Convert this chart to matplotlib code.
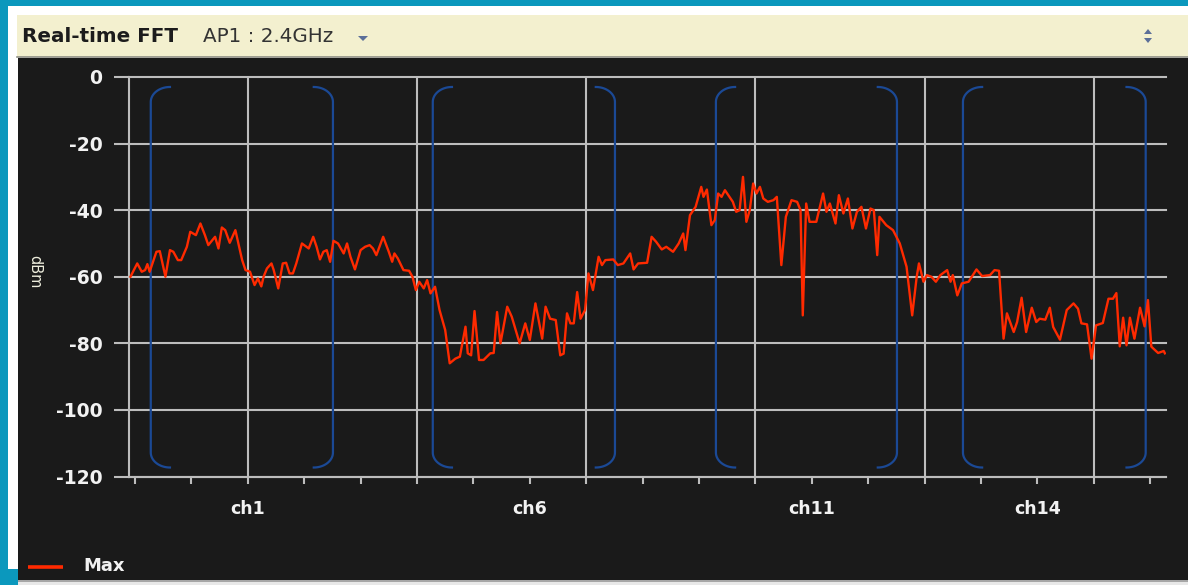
import matplotlib
matplotlib.use('Agg')
import matplotlib.pyplot as plt
import numpy as np
from matplotlib.patches import Rectangle, Polygon

# spectrum trace (MHz, dBm)
freq = [2401.6, 2402.2, 2402.6, 2402.9, 2403.1, 2403.3, 2403.9, 2404.2, 2404.7, 2405.1,
        2405.4, 2405.8, 2406.1, 2406.6, 2406.9, 2407.4, 2407.8, 2408.2, 2408.5, 2409.1,
        2409.4, 2409.7, 2410.0, 2410.4, 2410.9, 2411.2, 2411.5, 2411.8, 2412.2, 2412.6,
        2412.9, 2413.2, 2413.4, 2413.7, 2414.1, 2414.3, 2414.7, 2415.1, 2415.4, 2415.7,
        2416.0, 2416.3, 2416.8, 2417.4, 2417.8, 2418.1, 2418.4, 2418.7, 2419.0, 2419.3,
        2419.6, 2420.0, 2420.5, 2420.8, 2421.1, 2421.5, 2422.0, 2422.4, 2422.8, 2423.1,
        2423.4, 2424.0, 2424.5, 2424.8, 2425.0, 2425.3, 2425.8, 2426.3, 2426.6, 2426.9,
        2427.2, 2427.6, 2427.9, 2428.2, 2428.6, 2429.0, 2429.5, 2429.9, 2430.4, 2430.8,
        2431.3, 2431.5, 2431.8, 2432.1, 2432.5, 2432.9, 2433.5, 2433.8, 2434.1, 2434.4,
        2435.0, 2435.4, 2436.1, 2436.6, 2437.0, 2437.5, 2438.1, 2438.4, 2438.8, 2439.3,
        2439.7, 2440.0, 2440.3, 2440.6, 2440.9, 2441.2, 2441.5, 2441.9, 2442.2, 2442.6,
        2443.1, 2443.4, 2443.7, 2444.4, 2444.8, 2445.3, 2445.9, 2446.2, 2446.6, 2447.4,
        2447.8, 2448.2, 2448.7, 2449.1, 2449.7, 2450.2, 2450.6, 2450.8, 2451.2, 2451.7,
        2452.2, 2452.4, 2452.7, 2453.1, 2453.4, 2453.7, 2454.0, 2454.3, 2454.7, 2455.0,
        2455.3, 2455.6, 2455.9, 2456.2, 2456.5, 2456.8, 2457.1, 2457.4, 2457.7, 2458.1,
        2458.6, 2458.9, 2459.3, 2459.7, 2460.2, 2460.7, 2461.0, 2461.2, 2461.5, 2461.8,
        2462.4, 2463.0, 2463.3, 2463.6, 2464.1, 2464.4, 2464.8, 2465.2, 2465.6, 2466.0,
        2466.4, 2466.8, 2467.2, 2467.5, 2467.8, 2468.0, 2468.6, 2469.2, 2469.8, 2470.4,
        2470.9, 2471.3, 2471.5, 2471.9, 2472.2, 2472.6, 2473.0, 2473.4, 2474.0, 2474.3,
        2474.5, 2474.9, 2475.3, 2475.9, 2476.6, 2477.1, 2477.8, 2478.2, 2478.6, 2479.0,
        2479.3, 2479.9, 2480.2, 2480.6, 2481.0, 2481.5, 2481.9, 2482.2, 2482.7, 2483.1,
        2483.4, 2484.0, 2484.6, 2485.2, 2485.6, 2485.9, 2486.4, 2486.8, 2487.2, 2487.8,
        2488.3, 2488.7, 2489.0, 2489.3, 2489.6, 2489.9, 2490.2, 2490.6, 2491.1, 2491.5,
        2491.8, 2492.1, 2492.7, 2493.2, 2493.3]
dbm = [-60, -56, -58.5, -58, -56.2, -58.5, -52.5, -52.3, -60, -52,
       -52.5, -55, -55, -51, -46.5, -47.5, -44, -47.5, -50.5, -48,
       -51.5, -45.2, -46, -49.8, -46, -50.5, -55, -58, -58.5, -62.5,
       -60.5, -62.9, -60, -57.5, -56, -58, -63.5, -56, -55.8, -59,
       -59, -56, -50, -51.5, -48, -51, -54.8, -52.5, -52, -55.5,
       -49.2, -50, -53, -50, -54, -57.8, -52, -51, -50.5, -51.5,
       -53.5, -48, -52.5, -55.5, -53, -54.5, -58, -58.2, -60, -64,
       -61.5, -63.5, -61, -65, -63, -70, -76, -86, -84.6, -84,
       -75, -83, -83.6, -70.3, -85, -85, -83, -82.9, -70.6, -80,
       -69, -72, -80, -74, -79, -68, -78.6, -69, -72.6, -73,
       -83.6, -83.1, -71, -74, -74, -64.6, -72.6, -70, -59, -64,
       -54, -56.5, -55, -54.8, -56.5, -56, -53, -57.8, -56, -55.8,
       -48, -49.5, -51.8, -51, -52.5, -50, -47, -52, -41.5, -39,
       -33, -36, -33.8, -44.5, -43, -35, -36, -34, -36, -37.5,
       -40.5, -40, -30, -43.5, -40, -32, -35, -33, -36.5, -37.5,
       -37, -36, -56.5, -42, -37, -37.5, -40, -71.6, -38, -43.5,
       -43.5, -35, -40.5, -38, -44, -35.5, -41, -36.5, -45.5, -40.5,
       -39, -45.5, -39.5, -40, -53.5, -42, -44.5, -46, -50, -57,
       -71.6, -60, -56, -61.5, -59.5, -60, -61.5, -59.5, -58, -61.5,
       -59.5, -65.6, -62, -61.5, -57.8, -59.8, -59.5, -58, -58.2, -78.6,
       -71, -76.6, -73.6, -66.3, -76.6, -69.3, -73.6, -72.6, -72.9, -69.3,
       -75.1, -78.9, -70, -68, -69.6, -74, -74.3, -84.6, -74.6, -73.9,
       -66.6, -66.6, -64.9, -80.9, -72.3, -80.6, -72.3, -78.6, -69.3, -74.9,
       -67, -81, -82.9, -82.3, -83]

y_ticks = [0, -20, -40, -60, -80, -100, -120]
tick_freqs = [2402, 2407, 2412, 2417, 2422, 2427, 2432, 2437, 2442, 2447,
              2452, 2457, 2462, 2467, 2472, 2477, 2482, 2487, 2492]
grid_freqs = [2412, 2427, 2442, 2457, 2472, 2487]
ch_freqs = [2412, 2437, 2462, 2482]
ch_labels = ['ch1', 'ch6', 'ch11', 'ch14']

# channel mask brackets
mask_left = [2403.4, 2428.4, 2453.5, 2475.4]
mask_right = [2419.55, 2444.55, 2469.55, 2491.6]
mask_top = -3.0
mask_bottom = -117.3

teal = '#0b98bd'
panel = '#1a1a1a'
grid_c = '#bdbdbd'
text_c = '#f2f2f2'

fig = plt.figure(figsize=(11.88, 5.85), dpi=100)
fig.patch.set_facecolor(teal)

# page chrome in pixel coordinates
bg = fig.add_axes([0, 0, 1, 1])
bg.set_xlim(0, 1188)
bg.set_ylim(585, 0)
bg.axis('off')
bg.add_patch(Rectangle((8, 6), 1180, 563, color='white', lw=0))
bg.add_patch(Rectangle((17, 15), 1171, 42, color='#f3f0cf', lw=0))
bg.plot([17, 1188], [57, 57], color='#8f8f86', lw=1.2)
bg.add_patch(Rectangle((18, 58), 1170, 522, color=panel, lw=0))
bg.add_patch(Rectangle((18, 580), 1170, 2, color='#a6a6a6', lw=0))
bg.add_patch(Rectangle((18, 582), 1170, 3, color='#e8e8e8', lw=0))
bg.add_patch(Rectangle((0, 569), 18, 16, color=teal, lw=0))

bg.text(22, 36, 'Real-time FFT', fontsize=14.3, fontweight='bold', color='#1c1c1c', va='center')
bg.text(203, 36, 'AP1 : 2.4GHz', fontsize=14.3, color='#333333', va='center')
bg.add_patch(Polygon([[358, 36], [368, 36], [363, 41]], closed=True, color='#5b6f99', lw=0))
bg.add_patch(Polygon([[1144, 34], [1152, 34], [1148, 29]], closed=True, color='#5b6f99', lw=0))
bg.add_patch(Polygon([[1144, 38], [1152, 38], [1148, 43]], closed=True, color='#5b6f99', lw=0))

# legend
bg.plot([28, 63], [567, 567], color='#ff2a00', lw=2.6, solid_capstyle='butt')
bg.text(83, 566, 'Max', fontsize=13, fontweight='bold', color=text_c, va='center')
bg.text(35, 272, 'dBm', fontsize=10.5, color='#eeeedd', rotation=-90, ha='center', va='center')

ax = fig.add_axes([129 / 1188, 1 - 476.5 / 585, (1166 - 129) / 1188, (476.5 - 77) / 585])
ax.set_facecolor('none')
ax.set_xlim(2401.47, 2493.4)
ax.set_ylim(-120, 0)

for g in grid_freqs:
    ax.axvline(g, color=grid_c, lw=1.5, zorder=1)
for y in y_ticks:
    ax.axhline(y, color=grid_c, lw=1.5, zorder=1, clip_on=False)

# channel brackets: straight side with rounded ends
rx, ry = 1.7, 4.5
t = np.linspace(0, np.pi / 2, 20)
for L, R in zip(mask_left, mask_right):
    for x0, s in ((L, 1), (R, -1)):
        cx = x0 + s * rx
        top_x = cx - s * rx * np.cos(t[::-1])
        top_y = mask_top - ry + ry * np.sin(t[::-1])
        bot_x = cx - s * rx * np.cos(t)
        bot_y = mask_bottom + ry - ry * np.sin(t)
        ax.plot(np.concatenate([top_x, bot_x]), np.concatenate([top_y, bot_y]),
                color='#1b4995', lw=1.6, zorder=2)

ax.plot(freq, dbm, color='#ff2a00', lw=1.7, zorder=3)

for side in ['top', 'right']:
    ax.spines[side].set_visible(False)
for side in ['left', 'bottom']:
    ax.spines[side].set_color(grid_c)
    ax.spines[side].set_linewidth(1.5)

ax.set_yticks(y_ticks)
ax.set_yticklabels([str(v) for v in y_ticks])
ax.tick_params(axis='y', length=11, width=1.5, color=grid_c, labelcolor=text_c,
               labelsize=13.5, pad=8)
for lab in ax.get_yticklabels():
    lab.set_fontweight('bold')

ax.xaxis.remove_overlapping_locs = False
ax.set_xticks(tick_freqs)
ax.set_xticklabels([])
ax.tick_params(axis='x', which='major', length=5, width=1.5, color=grid_c, direction='out')
ax.set_xticks(ch_freqs, minor=True)
ax.set_xticklabels(ch_labels, minor=True)
ax.tick_params(axis='x', which='minor', length=0, pad=17, labelcolor=text_c, labelsize=12.5)
for lab in ax.get_xticklabels(minor=True):
    lab.set_fontweight('bold')

fig.savefig('out.png', dpi=100, facecolor=fig.get_facecolor())
